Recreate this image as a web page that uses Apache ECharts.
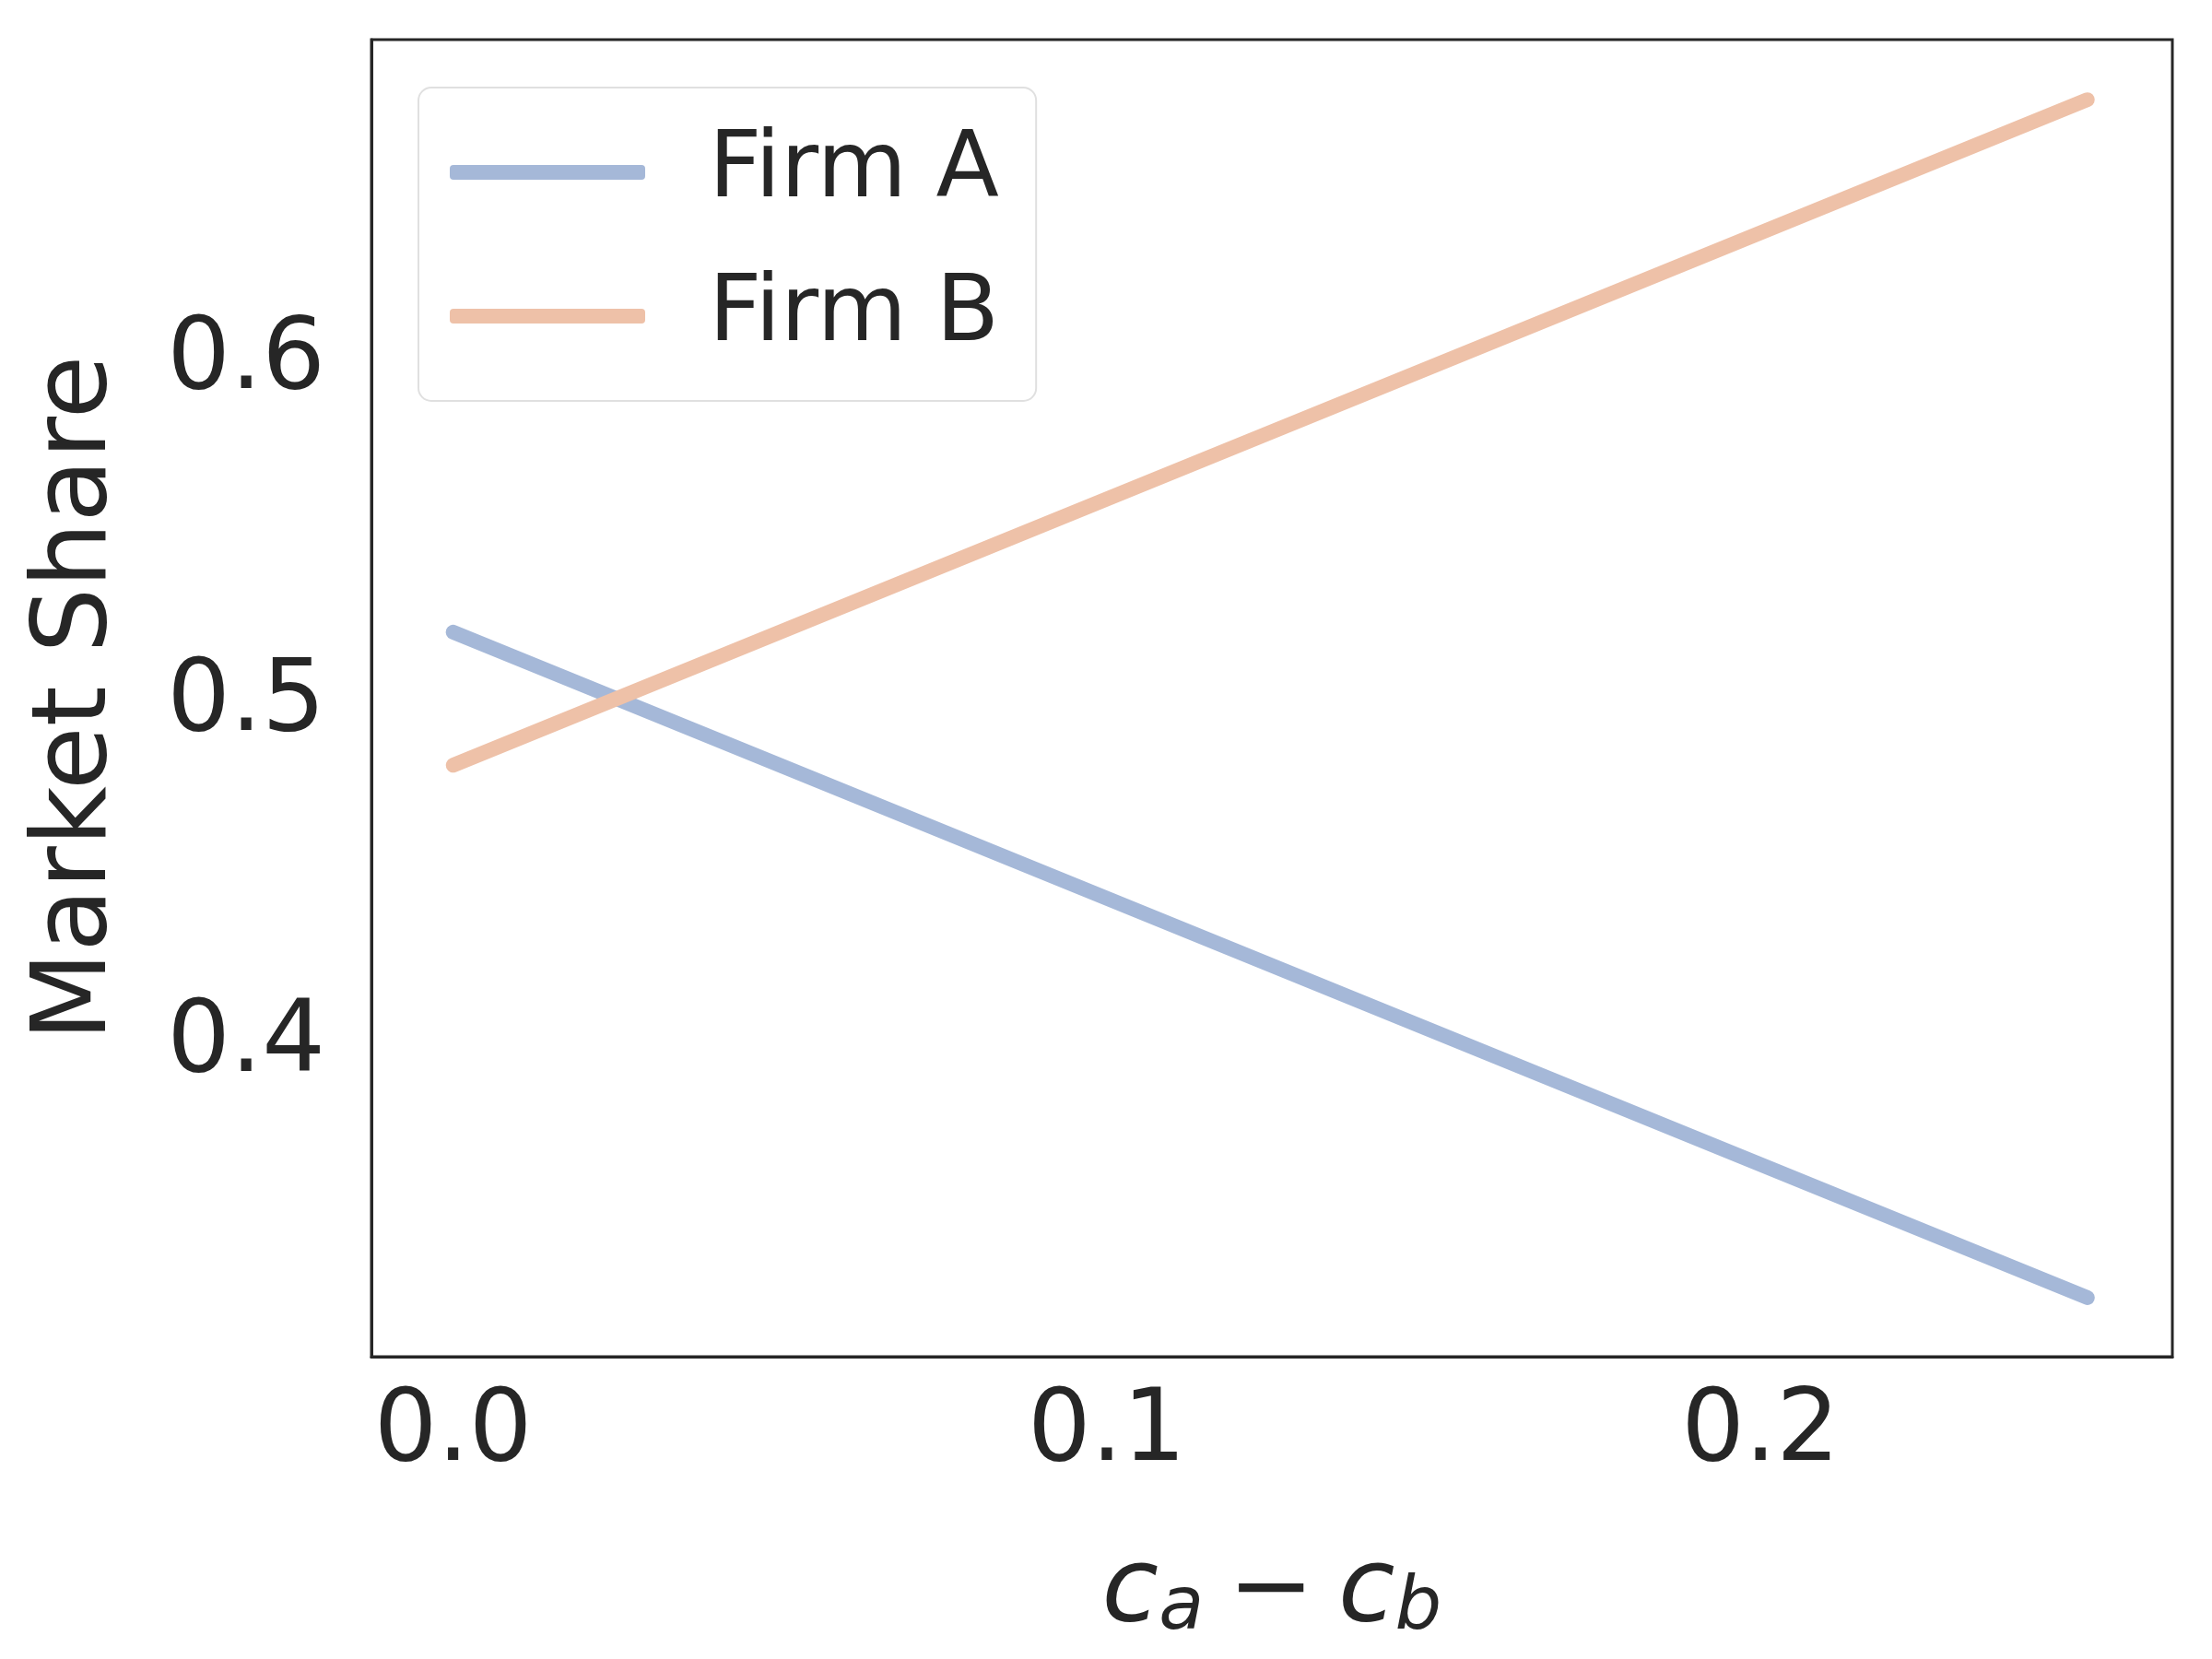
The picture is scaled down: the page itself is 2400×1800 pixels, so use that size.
<!DOCTYPE html>
<html><head><meta charset="utf-8">
<script src="https://cdn.jsdelivr.net/npm/echarts@6/dist/echarts.min.js"></script>
<style>html,body{margin:0;background:#fff}#c{width:2400px;height:1800px}</style>
</head><body><div id="c"></div>
<script>
const xValues=[0.0,0.25];
const firmA=[0.521,0.326];
const firmB=[0.482,0.677];
const xTicks=[0,0.1,0.2];
const yTicks=[0.4,0.5,0.6];
const chart=echarts.init(document.getElementById('c'));
const font='DejaVu Sans';
chart.setOption({
  animation:false,
  grid:{left:403,right:43,top:43,bottom:328},
  legend:{orient:'vertical',left:454,top:95,padding:[42,40,42,34],itemGap:56,itemWidth:212,itemHeight:16,
    borderColor:'#e0e0e0',borderWidth:2,borderRadius:14,
    textStyle:{fontFamily:font,fontSize:100,color:'#262626',padding:[0,0,0,64]},
    data:[{name:'Firm A',icon:'roundRect'},{name:'Firm B',icon:'roundRect'}]},
  xAxis:{type:'value',min:-0.0125,max:0.263,
    axisLine:{show:true,onZero:false,lineStyle:{color:'#262626',width:3}},
    axisTick:{show:false},splitLine:{show:false},
    axisLabel:{customValues:xTicks,formatter:v=>v.toFixed(1),fontFamily:font,fontSize:108,color:'#262626',margin:30},
    name:'{i|c}{s|a}{m|−}{i|c}{s|b}',nameLocation:'middle',nameGap:200,
    nameTextStyle:{rich:{i:{fontFamily:font,fontStyle:'italic',fontSize:112,color:'#262626'},
      s:{fontFamily:font,fontStyle:'italic',fontSize:80,color:'#262626',padding:[34,0,0,0]},
      m:{fontFamily:font,fontSize:112,color:'#262626',padding:[0,26,0,26]}}}},
  yAxis:{type:'value',min:0.3087,max:0.6946,
    axisLine:{show:true,onZero:false,lineStyle:{color:'#262626',width:3}},
    axisTick:{show:false},splitLine:{show:false},
    axisLabel:{customValues:yTicks,formatter:v=>v.toFixed(1),fontFamily:font,fontSize:108,color:'#262626',margin:50},
    name:'Market Share',nameLocation:'middle',nameGap:262,
    nameTextStyle:{fontFamily:font,fontSize:112,color:'#262626'}},
  graphic:[{type:'rect',shape:{x:403,y:43,width:1954,height:1429},style:{fill:'none',stroke:'#262626',lineWidth:3},silent:true}],
  series:[
    {name:'Firm A',type:'line',data:xValues.map((x,i)=>[x,firmA[i]]),showSymbol:false,color:'#a5b8d8',lineStyle:{width:16,cap:'round'}},
    {name:'Firm B',type:'line',data:xValues.map((x,i)=>[x,firmB[i]]),showSymbol:false,color:'#eec1a8',lineStyle:{width:16,cap:'round'}}
  ]
});
</script></body></html>
